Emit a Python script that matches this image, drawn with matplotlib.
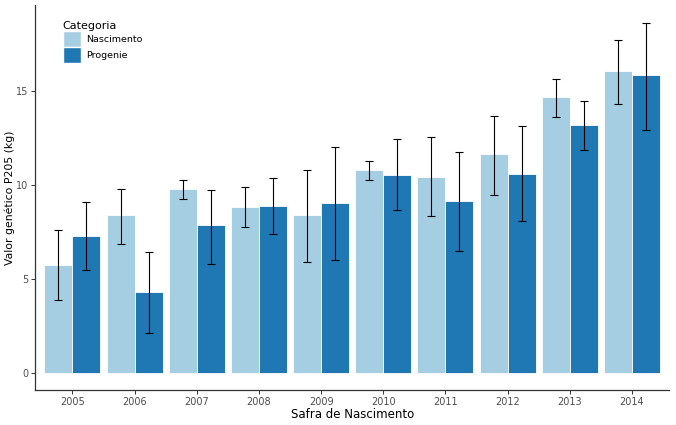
import numpy as np
import matplotlib
matplotlib.use("Agg")
import matplotlib.pyplot as plt
from matplotlib.patches import Patch

# Data
safras = ['2005', '2006', '2007', '2008', '2009', '2010', '2011', '2012', '2013', '2014']
nascimento = [5.75, 8.4, 9.8, 8.85, 8.4, 10.8, 10.45, 11.65, 14.7, 16.1]
nasc_low = [3.85, 6.85, 9.25, 7.75, 5.9, 10.25, 8.35, 9.5, 13.65, 14.35]
nasc_high = [7.6, 9.8, 10.3, 9.9, 10.8, 11.3, 12.55, 13.7, 15.65, 17.75]
progenie = [7.3, 4.3, 7.85, 8.9, 9.05, 10.55, 9.15, 10.6, 13.2, 15.85]
prog_low = [5.5, 2.1, 5.8, 7.4, 6.0, 8.65, 6.5, 8.1, 11.85, 12.95]
prog_high = [9.1, 6.45, 9.75, 10.4, 12.05, 12.45, 11.75, 13.15, 14.5, 18.65]

COR_NASC = '#a6cee3'
COR_PROG = '#1f78b4'

fig = plt.figure(figsize=(6.76, 4.25), dpi=100)
ax = fig.add_axes([0.052, 0.082, 0.938, 0.906])

x = np.arange(1, len(safras) + 1)
w = 0.45

def draw_series(xpos, vals, low, high, color):
    ax.bar(xpos, vals, width=w, color=color, edgecolor='white', linewidth=0.6, zorder=2)
    vals = np.array(vals)
    yerr = [vals - np.array(low), np.array(high) - vals]
    ax.errorbar(xpos, vals, yerr=yerr, fmt='none', ecolor='black',
                elinewidth=0.8, capsize=3, capthick=0.8, zorder=3)

draw_series(x - w / 2, nascimento, nasc_low, nasc_high, COR_NASC)
draw_series(x + w / 2, progenie, prog_low, prog_high, COR_PROG)

ax.set_xlim(0.4, len(safras) + 0.6)
ax.set_ylim(-0.93, 19.6)
ax.set_xticks(x)
ax.set_xticklabels(safras)
ax.set_yticks([0, 5, 10, 15])

for side in ['top', 'right']:
    ax.spines[side].set_visible(False)
for side in ['left', 'bottom']:
    ax.spines[side].set_color('#333333')
    ax.spines[side].set_linewidth(0.9)
ax.tick_params(axis='both', colors='#333333', labelcolor='#4d4d4d', labelsize=7,
               length=3, width=0.7, pad=2)

ax.set_xlabel('Safra de Nascimento', fontsize=8.5, labelpad=1)
ax.set_ylabel('Valor genético P205 (kg)', fontsize=7.8)
ax.yaxis.set_label_coords(-0.031, 0.5)

handles = [Patch(facecolor=COR_NASC, edgecolor='white', label='Nascimento'),
           Patch(facecolor=COR_PROG, edgecolor='white', label='Progenie')]
leg = ax.legend(handles=handles, title='Categoria', loc='upper left',
                bbox_to_anchor=(0.03, 0.98), frameon=False, fontsize=6.8,
                title_fontsize=8, handlelength=1.9, handleheight=2.2,
                handletextpad=0.6, labelspacing=0.0)
leg._legend_box.align = 'left'

fig.savefig('out.png', dpi=100)
